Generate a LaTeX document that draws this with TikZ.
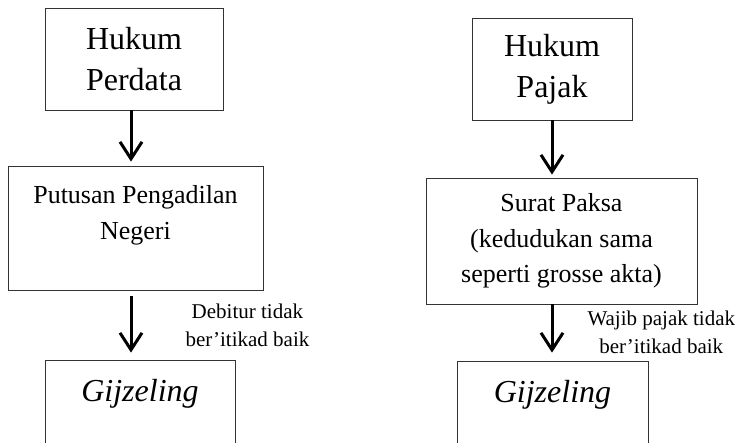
\documentclass[tikz,border=0pt]{standalone}
\usepackage{fontspec}
\setmainfont{Liberation Serif}
\usetikzlibrary{arrows.meta}

\begin{document}
\begin{tikzpicture}[x=1pt, y=-1pt,
  box/.style={draw=black!80, line width=0.8pt, inner sep=0pt, align=center},
  big/.style={font=\fontsize{32}{41}\selectfont},
  body/.style={font=\fontsize{26}{35.5}\selectfont},
  gij/.style={font=\fontsize{32}{38}\selectfont\itshape},
  flow/.style={-{Straight Barb[length=17pt,width=22pt]}, line width=3pt},
  note/.style={font=\fontsize{21}{28}\selectfont, align=center, inner sep=0pt}]
\useasboundingbox (0,0) rectangle (744,442);
\clip (0,0) rectangle (744,442);

% left column: hukum perdata
\node[box,big,minimum width=178pt,minimum height=102pt] (perdata) at (134,59) {Hukum\\Perdata};
\node[box,body,minimum width=255pt,minimum height=124pt,text depth=31pt] (putusan) at (135.5,228) {Putusan Pengadilan\\Negeri};
\node[box,gij,minimum width=190pt,minimum height=100pt,text depth=40pt] (gijL) at (140,410) {Gijzeling};

\coordinate (colL) at (131,0);
\draw[flow, shorten >=4pt] (perdata.south -| colL) -- (putusan.north -| colL);
\draw[flow, shorten <=6pt, shorten >=7pt] (putusan.south -| colL) -- (gijL.north -| colL)
  node[note, midway, right=53pt] {Debitur tidak\\ber’itikad baik};

% right column: hukum pajak
\node[box,big,minimum width=160pt,minimum height=102pt] (pajak) at (552,69) {Hukum\\Pajak};
\node[box,body,minimum width=271pt,minimum height=126pt] (paksa) at (561.5,241) {Surat Paksa\\(kedudukan sama\\seperti grosse akta)};
\node[box,gij,minimum width=191pt,minimum height=100pt,text depth=40pt] (gijR) at (552.5,411) {Gijzeling};

\coordinate (colR) at (552,0);
\draw[flow, shorten >=3pt] (pajak.south -| colR) -- (paksa.north -| colR);
\draw[flow, shorten >=8pt] (paksa.south -| colR) -- (gijR.north -| colR)
  node[note, midway, right=34pt] {Wajib pajak tidak\\ber’itikad baik};
\end{tikzpicture}
\end{document}
